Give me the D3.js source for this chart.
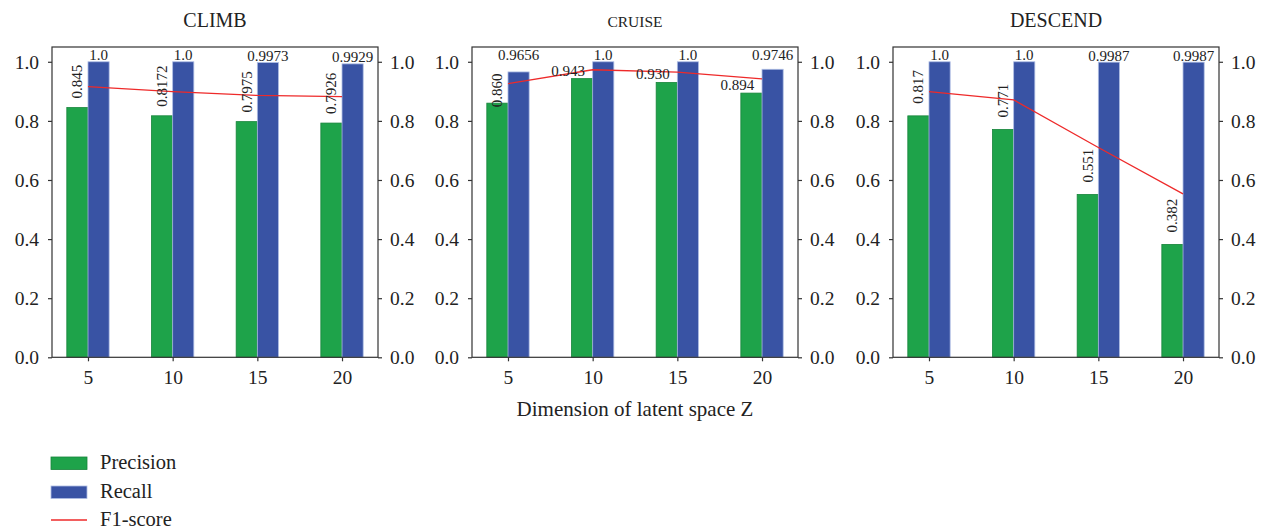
<!DOCTYPE html>
<html>
<head>
<meta charset="utf-8">
<script src="https://cdn.jsdelivr.net/npm/d3@7"></script>
<style>
  body { margin: 0; background: #fff; }
  svg text { font-family: "Liberation Serif", "Times New Roman", serif !important; fill: #222; }
</style>
</head>
<body>
<svg width="1271" height="528"></svg>
<script>
// data
var dims = [5, 10, 15, 20];
var panelNames = ['CLIMB', 'CRUISE', 'DESCEND'];

var precisionClimb = [0.845, 0.8172, 0.7975, 0.7926];
var recallClimb = [1.0, 1.0, 0.9973, 0.9929];
var f1Climb = [0.916, 0.899, 0.886, 0.882];
var precisionLabelsClimb = ['0.845', '0.8172', '0.7975', '0.7926'];
var recallLabelsClimb = ['1.0', '1.0', '0.9973', '0.9929'];

var precisionCruise = [0.860, 0.943, 0.930, 0.894];
var recallCruise = [0.9656, 1.0, 1.0, 0.9746];
var f1Cruise = [0.926, 0.973, 0.965, 0.942];
var precisionLabelsCruise = ['0.860', '0.943', '0.930', '0.894'];
var recallLabelsCruise = ['0.9656', '1.0', '1.0', '0.9746'];

var precisionDescend = [0.817, 0.771, 0.551, 0.382];
var recallDescend = [1.0, 1.0, 0.9987, 0.9987];
var f1Descend = [0.899, 0.871, 0.710, 0.553];
var precisionLabelsDescend = ['0.817', '0.771', '0.551', '0.382'];
var recallLabelsDescend = ['1.0', '1.0', '0.9987', '0.9987'];

var yTicks = [0.0, 0.2, 0.4, 0.6, 0.8, 1.0];
var legendNames = ['Precision', 'Recall', 'F1-score'];
var xLabel = 'Dimension of latent space Z';

// panels
var panels = [
    { title: panelNames[0], p: precisionClimb, r: recallClimb, f1: f1Climb,
      pl: precisionLabelsClimb, rl: recallLabelsClimb },
    { title: panelNames[1], p: precisionCruise, r: recallCruise, f1: f1Cruise,
      pl: precisionLabelsCruise, rl: recallLabelsCruise },
    { title: panelNames[2], p: precisionDescend, r: recallDescend, f1: f1Descend,
      pl: precisionLabelsDescend, rl: recallLabelsDescend }
];

// layout / style settings
var panelLeft = [52, 472, 893];
var panelWidth = 326;
var plotTop = 47;
var plotBottom = 357.3;
var titleSize = [20, 15.5, 20];
var barWidth = 1.25;  // in x units
var serif = '"Liberation Serif", "Times New Roman", serif';

var green = '#1ea34a', greenEdge = '#16843a';
var blue = '#3953a4', blueEdge = '#aebde4';
var red = '#ee2a2a';
var axisColor = '#333';

var svg = d3.select('svg').style('font-family', serif);

var yScale = d3.scaleLinear().domain([0, 1.05]).range([plotBottom, plotTop]);

panels.forEach(function(panel, pi) {
    var left = panelLeft[pi];
    var xScale = d3.scaleLinear().domain([2.875, 22.125]).range([left, left + panelWidth]);
    var g = svg.append('g');
    var bw = xScale(barWidth) - xScale(0);

    // precision bars (left of the tick)
    g.selectAll('rect.prec')
        .data(panel.p)
        .enter().append('rect')
        .attr('x', function(d, i) { return xScale(dims[i] - barWidth); })
        .attr('y', function(d) { return yScale(d); })
        .attr('width', bw)
        .attr('height', function(d) { return yScale(0) - yScale(d); })
        .attr('fill', green)
        .attr('stroke', greenEdge)
        .attr('stroke-width', 0.8);

    // recall bars (right of the tick)
    g.selectAll('rect.rec')
        .data(panel.r)
        .enter().append('rect')
        .attr('x', function(d, i) { return xScale(dims[i]); })
        .attr('y', function(d) { return yScale(d); })
        .attr('width', bw)
        .attr('height', function(d) { return yScale(0) - yScale(d); })
        .attr('fill', blue)
        .attr('stroke', blueEdge)
        .attr('stroke-width', 0.8);

    // f1 line
    var line = d3.line()
        .x(function(d, i) { return xScale(dims[i]); })
        .y(function(d) { return yScale(d); });
    g.append('path')
        .datum(panel.f1)
        .attr('fill', 'none')
        .attr('stroke', red)
        .attr('stroke-width', 1.3)
        .attr('d', line);

    // precision labels
    panel.p.forEach(function(v, i) {
        var cx = xScale(dims[i] - barWidth / 2);
        var top = yScale(v);
        var rotated = !(pi === 1 && i > 0);
        if (rotated) {
            var gap = pi === 0 ? 9 : (pi === 1 ? -4 : 12);
            g.append('text')
                .attr('transform', 'translate(' + (cx + 5) + ',' + (top - gap) + ') rotate(-90)')
                .attr('font-size', 15)
                .text(panel.pl[i]);
        } else {
            g.append('text')
                .attr('x', cx - 14)
                .attr('y', top - 3)
                .attr('text-anchor', 'middle')
                .attr('font-size', 15)
                .text(panel.pl[i]);
        }
    });

    // recall labels
    panel.r.forEach(function(v, i) {
        var cx = xScale(dims[i] + barWidth / 2);
        var base = pi === 1 ? yScale(1.0) : yScale(v);
        g.append('text')
            .attr('x', cx)
            .attr('y', base - 1.5)
            .attr('text-anchor', 'middle')
            .attr('font-size', 15)
            .text(panel.rl[i]);
    });

    // frame
    g.append('rect')
        .attr('x', left)
        .attr('y', plotTop)
        .attr('width', panelWidth)
        .attr('height', plotBottom - plotTop)
        .attr('fill', 'none')
        .attr('stroke', axisColor)
        .attr('stroke-width', 1.2);

    // axes
    var yLeft = g.append('g')
        .attr('transform', 'translate(' + left + ',0)')
        .call(d3.axisLeft(yScale).tickValues(yTicks).tickFormat(d3.format('.1f'))
            .tickSize(4).tickPadding(9).tickSizeOuter(0));
    var yRight = g.append('g')
        .attr('transform', 'translate(' + (left + panelWidth) + ',0)')
        .call(d3.axisRight(yScale).tickValues(yTicks).tickFormat(d3.format('.1f'))
            .tickSize(4).tickPadding(8).tickSizeOuter(0));
    var xAxis = g.append('g')
        .attr('transform', 'translate(0,' + plotBottom + ')')
        .call(d3.axisBottom(xScale).tickValues(dims).tickFormat(d3.format('d'))
            .tickSize(4).tickPadding(9).tickSizeOuter(0));

    [yLeft, yRight, xAxis].forEach(function(ax) {
        ax.attr('font-family', serif).attr('font-size', 19);
        ax.select('.domain').remove();
        ax.selectAll('line').attr('stroke', axisColor).attr('stroke-width', 1.2);
        ax.selectAll('text')
            .style('font-family', serif)
            .style('font-size', '19.5px')
            .attr('fill', '#222');
    });

    // title
    g.append('text')
        .attr('x', left + panelWidth / 2)
        .attr('y', 26.5)
        .attr('text-anchor', 'middle')
        .attr('font-size', titleSize[pi])
        .text(panel.title);
});

// shared x label
svg.append('text')
    .attr('x', panelLeft[1] + panelWidth / 2)
    .attr('y', 415.5)
    .attr('text-anchor', 'middle')
    .style('font-size', '21px')
    .text(xLabel);

// legend
var legend = svg.append('g').attr('transform', 'translate(51,0)');
var legendY = [463, 492, 520];
legendNames.forEach(function(name, i) {
    var y = legendY[i];
    if (i < 2) {
        legend.append('rect')
            .attr('x', 0)
            .attr('y', y - 6)
            .attr('width', 36)
            .attr('height', 12.5)
            .attr('fill', i === 0 ? green : blue)
            .attr('stroke', i === 0 ? greenEdge : blueEdge)
            .attr('stroke-width', 0.8);
    } else {
        legend.append('line')
            .attr('x1', 0)
            .attr('x2', 36)
            .attr('y1', y)
            .attr('y2', y)
            .attr('stroke', red)
            .attr('stroke-width', 1.3);
    }
    legend.append('text')
        .attr('x', 49)
        .attr('y', y + 5.5)
        .style('font-size', '20.5px')
        .text(name);
});
</script>
</body>
</html>
